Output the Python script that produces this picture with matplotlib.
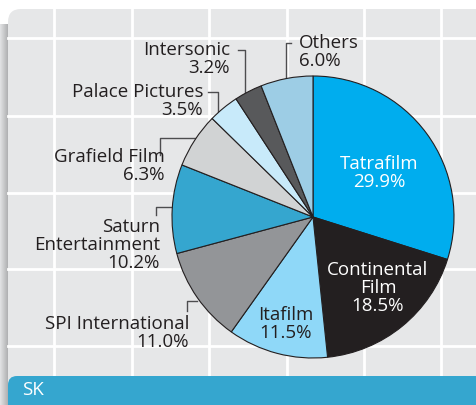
import numpy as np
import matplotlib.pyplot as plt
from matplotlib.colors import LinearSegmentedColormap
from matplotlib.patches import FancyBboxPatch

plt.rcParams['font.family'] = ['Open Sans', 'DejaVu Sans']

# data
labels = ['Tatrafilm', 'Continental\nFilm', 'Itafilm', 'SPI International',
          'Saturn\nEntertainment', 'Grafield Film', 'Palace Pictures',
          'Intersonic', 'Others']
shares = [29.9, 18.5, 11.5, 11.0, 10.2, 6.3, 3.5, 3.2, 6.0]
colors = ['#00adee', '#231f20', '#8fd8f8', '#939598', '#35a6cf',
          '#d1d3d4', '#c8eafa', '#58595b', '#9dcde5']
country = 'SK'

W, H = 476, 405
fig = plt.figure(figsize=(W / 100, H / 100), dpi=100)
ax = fig.add_axes([0, 0, 1, 1])


def fy(y):
    # pixel row (from top) -> data y
    return H - y


# shadow strip on the left of the panel
shade = LinearSegmentedColormap.from_list('sh', ['#e2e3e4', '#a9aaac'])
grad = np.linspace(0, 1, 20)[None, :]
ax.imshow(grad, cmap=shade, extent=(0, 9, 0, fy(24)), aspect='auto', zorder=0)
fade = np.linspace(0, 1, 20)[:, None] * np.ones((1, 10))
ax.imshow(np.dstack([np.ones((20, 10, 3)), fade]), extent=(0, 9, fy(24), fy(4)),
          aspect='auto', zorder=0.5)

# panel
ax.add_patch(FancyBboxPatch((8, 0), W - 8 + 20, fy(9), boxstyle='round,pad=0,rounding_size=13',
                            fc='#e6e7e8', ec='none', zorder=1))
for gx in [54, 132, 209, 287, 364, 441]:
    ax.plot([gx, gx], [fy(376), fy(9)], color='white', lw=2, zorder=2)
for gy in [38, 116, 193, 269, 346]:
    ax.plot([8, W], [fy(gy), fy(gy)], color='white', lw=2, zorder=2)

# bottom band
ax.add_patch(FancyBboxPatch((8, -20), W, fy(376) + 20, boxstyle='round,pad=0,rounding_size=9',
                            fc='#35a6cf', ec='none', zorder=3))
ax.text(22, fy(390), country, color='white', fontsize=13.5, ha='left', va='center', zorder=4)

# pie
wedges, _ = ax.pie(shares, colors=colors, startangle=90, counterclock=False,
                   center=(313, fy(217)), radius=141,
                   wedgeprops=dict(edgecolor='#231f20', linewidth=0.8))
for w in wedges:
    w.set_zorder(5)

txt = '#231f20'
fs = 13.5
ls = 1.0
# inside labels
inside = {0: (379, 173, 'white'), 1: (378, 288, 'white'), 2: (286, 324, txt)}
for i, (x, y, c) in inside.items():
    ax.text(x, fy(y), f'{labels[i]}\n{shares[i]:.1f}%', color=c, fontsize=fs,
            ha='center', va='center', linespacing=ls, zorder=6)

# outside labels: (index, x, y_center, ha)
outside = [(3, 189, 333, 'right'), (4, 160, 245, 'right'), (5, 165, 166, 'right'),
           (6, 203, 101, 'right'), (7, 230, 59, 'right'), (8, 299, 52, 'left')]
for i, x, y, ha in outside:
    ax.text(x, fy(y), f'{labels[i]}\n{shares[i]:.1f}%', color=txt, fontsize=fs,
            ha=ha, va='center', linespacing=ls, multialignment=ha, zorder=6)

# leader lines
leaders = [
    [(238, 50), (245, 50), (245, 92)],
    [(208, 92), (218, 92), (218, 117)],
    [(160, 155), (160, 138), (195, 138)],
    [(291, 43), (286, 43), (286, 80)],
    [(156, 215), (156, 207), (172, 207)],
    [(187, 311), (187, 301), (197, 301)],
]
for pts in leaders:
    xs = [p[0] for p in pts]
    ys = [fy(p[1]) for p in pts]
    ax.plot(xs, ys, color='#4d4d4f', lw=1, zorder=4)

ax.set_xlim(0, W)
ax.set_ylim(0, H)
ax.set_aspect('auto')
ax.axis('off')
fig.savefig('out.png', dpi=100)
